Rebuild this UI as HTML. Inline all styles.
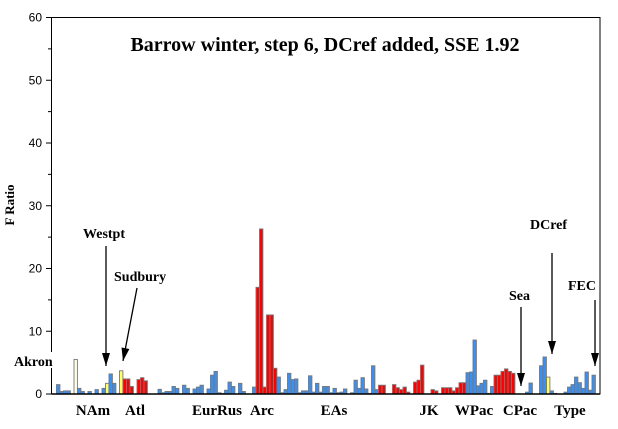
<!DOCTYPE html>
<html><head><meta charset="utf-8"><style>
body{margin:0;background:#fff}
svg{display:block}
.ser{font-family:"Liberation Serif",serif;font-weight:bold}
.tk{font-family:"Liberation Sans",sans-serif;font-size:12px}
</style></head><body>
<svg id="chart" width="618" height="429">
<rect x="0" y="0" width="618" height="429" fill="#fff"/>
<g id="bars"></g>
<g id="axis"></g>
<rect x="51.5" y="17.5" width="548.5" height="376.5" fill="none" stroke="#000" stroke-width="1"/>
<line x1="51.5" y1="394" x2="600" y2="394" stroke="#000" stroke-width="1.5"/>
<text class="ser" x="325" y="51" font-size="20" text-anchor="middle">Barrow winter, step 6, DCref added, SSE 1.92</text>
<text class="ser" font-size="13" transform="translate(14,205) rotate(-90)" text-anchor="middle">F Ratio</text>
<g id="groups"></g>
<rect x="12" y="352" width="57" height="16" fill="#fff"/>
<g id="notes"></g>
</svg>
<script>
const slots=[0,1,2,3,5,6,7,9,11,13,14,15,16,18,19,20,21,23,24,25,29,30,31,32,33,34,36,37,39,40,41,43,44,45,46,47,48,49,50,52,53,56,57,58,59,60,61,62,63,64,65,66,67,68,69,70,71,72,73,74,75,76,77,78,79,80,81,82,84,85,86,87,88,89,90,91,92,93,96,97,98,99,100,102,103,104,107,108,110,111,112,113,114,115,116,117,118,119,120,121,122,123,124,125,126,127,128,129,130,134,135,138,139,140,141,142,145,146,147,148,149,150,151,152,153];
const values=[1.5,0.4,0.5,0.5,5.5,0.9,0.4,0.4,0.7,0.9,1.7,3.2,1.7,3.7,2.4,2.4,1.2,2.3,2.6,2.1,0.75,0.2,0.4,0.4,1.2,0.9,1.4,0.9,0.8,1.1,1.4,0.8,3.0,3.6,0.2,0.1,0.6,1.9,1.2,1.7,0.4,1.1,17.0,26.3,1.1,12.6,12.6,4.1,2.7,0.2,0.7,3.3,2.3,2.4,0.2,0.5,0.5,2.9,0.3,1.7,0.3,1.2,1.2,0.2,0.9,0.2,0.3,0.8,0.2,2.2,0.9,2.6,0.8,0.1,4.5,0.7,1.4,1.4,1.5,1.0,0.7,1.1,0.3,1.9,2.2,4.6,0.7,0.5,1.0,1.0,1.0,0.5,1.0,1.8,1.8,3.4,3.5,8.6,1.3,1.7,2.2,0.1,1.2,3.0,3.0,3.6,4.0,3.6,3.3,0.3,1.75,4.5,5.9,2.7,0.5,0.1,0.3,1.1,1.5,2.7,1.8,0.9,3.5,0.6,3.0];
const colors="BBBBWBBBBBYBBYRRRRRRBBBBBBBBBBBBBBBBBBBBBBRRRRRRBBBBBBBBBBBBBBBBBBBBBBBBBBBBRRRRRRRRRRRRRRRRRRRBBBBBBBBRRRRRRBBBBYBBBBBBBBBBBY";
const yTicks=[0,10,20,30,40,50,60];
const groupNames=["NAm","Atl","EurRus","Arc","EAs","JK","WPac","CPac","Type"];
const groupX=[93,135,217,262,334,429,474,520,570];
const ns="http://www.w3.org/2000/svg";
const y0=394,yTop=17.5,yMax=60;
function y(v){return y0-(v/yMax)*(y0-yTop);}
function x(i){return 56.5+i*3.5;}
const fill={B:"#3b8ff0",R:"#ff0000",Y:"#ffff66",W:"#ffffe6"};
const gb=document.getElementById("bars");
slots.forEach((s,k)=>{
  const r=document.createElementNS(ns,"rect");
  r.setAttribute("x",x(s));r.setAttribute("width",3.4);
  r.setAttribute("y",y(values[k]));r.setAttribute("height",y0-y(values[k]));
  r.setAttribute("fill",fill[colors[k]]);r.setAttribute("stroke","#777");r.setAttribute("stroke-width","0.9");
  
  
  gb.appendChild(r);
});
const ga=document.getElementById("axis");
for(let v=0;v<=60;v+=5){
  const l=document.createElementNS(ns,"line");
  const major=v%10===0;
  l.setAttribute("x1",major?46:48);l.setAttribute("x2",51.5);l.setAttribute("y1",y(v));l.setAttribute("y2",y(v));
  l.setAttribute("stroke","#000");
  
  
  ga.appendChild(l);
}
yTicks.forEach(v=>{
  const t=document.createElementNS(ns,"text");
  t.setAttribute("x",42);t.setAttribute("y",y(v)+4);t.setAttribute("text-anchor","end");t.setAttribute("class","tk");
  t.textContent=v;
  
  
  ga.appendChild(t);
});
const gg=document.getElementById("groups");
groupNames.forEach((n,i)=>{
  const t=document.createElementNS(ns,"text");
  t.setAttribute("x",groupX[i]);t.setAttribute("y",415);t.setAttribute("text-anchor","middle");
  t.setAttribute("class","ser");t.setAttribute("font-size","15");
  t.textContent=n;
  
  
  gg.appendChild(t);
});
const notes=[["Akron",14,366,null],["Westpt",83,238,[106,246,106,366]],["Sudbury",114,281,[137,288,123,361]],["Sea",509,300,[521,307,521,386]],["DCref",530,229,[552,253,552,354]],["FEC",568,290,[595,300,595,366]]];
const gn=document.getElementById("notes");
notes.forEach(n=>{
  const t=document.createElementNS(ns,"text");
  t.setAttribute("x",n[1]);t.setAttribute("y",n[2]);t.setAttribute("class","ser");t.setAttribute("font-size","14");
  t.textContent=n[0];
  
  
  gn.appendChild(t);
  if(n[3]){
    const [x1,y1,x2,y2]=n[3];
    const l=document.createElementNS(ns,"line");
    l.setAttribute("x1",x1);l.setAttribute("y1",y1);l.setAttribute("x2",x2);l.setAttribute("y2",y2);
    l.setAttribute("stroke","#000");l.setAttribute("stroke-width","1.3");
    
    
    gn.appendChild(l);
    const a=Math.atan2(y2-y1,x2-x1),L=13,W=4;
    const bx=x2-L*Math.cos(a),by=y2-L*Math.sin(a);
    const px=-Math.sin(a)*W,py=Math.cos(a)*W;
    const p=document.createElementNS(ns,"polygon");
    p.setAttribute("points",`${x2},${y2} ${bx+px},${by+py} ${bx-px},${by-py}`);
    p.setAttribute("fill","#000");
    
    
    gn.appendChild(p);
  }
});
</script>
</body></html>
